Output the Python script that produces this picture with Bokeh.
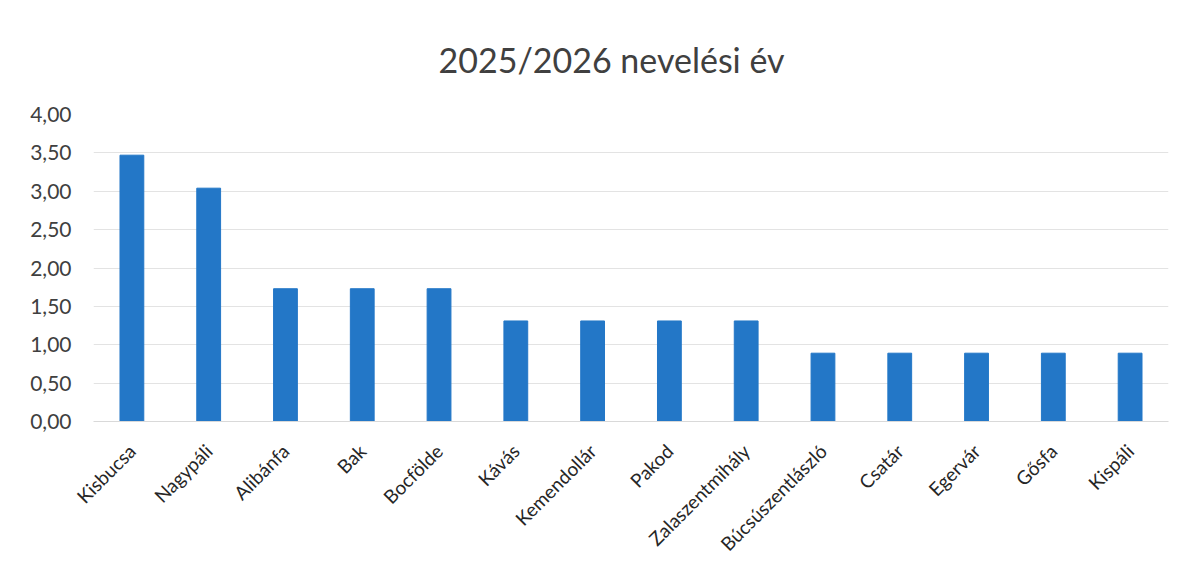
import math
from bokeh.plotting import figure
from bokeh.models import FactorRange, Range1d, SingleIntervalTicker, CustomJSTickFormatter
from bokeh.embed import file_html
from bokeh.resources import INLINE

categories = ["Kisbucsa", "Nagypáli", "Alibánfa", "Bak", "Bocfölde", "Kávás",
              "Kemendollár", "Pakod", "Zalaszentmihály", "Búcsúszentlászló",
              "Csatár", "Egervár", "Gősfa", "Kispáli"]
values = [3.47, 3.04, 1.73, 1.73, 1.73, 1.31, 1.31, 1.31, 1.31, 0.89, 0.89, 0.89, 0.89, 0.89]
title_text = "2025/2026 nevelési év"

FONT = "Lato"

p = figure(width=1173, height=566, output_backend="svg", toolbar_location=None,
           x_range=FactorRange(*categories, range_padding=0), y_range=Range1d(0, 4),
           min_border_left=93, min_border_right=5, min_border_top=114, min_border_bottom=144,
           title=title_text)

p.vbar(x=categories, top=values, width=0.31, color="#2377c7")

p.title.align = "left"
p.title.offset = 345
p.title.text_font = FONT
p.title.text_font_size = "34px"
p.title.text_font_style = "normal"
p.title.text_color = "#404040"
p.title.standoff = 70

p.outline_line_color = None
p.xgrid.grid_line_color = None
p.ygrid.grid_line_color = "#e3e3e3"

p.yaxis.ticker = SingleIntervalTicker(interval=0.5)
p.yaxis.formatter = CustomJSTickFormatter(code="return tick.toFixed(2).replace('.', ',');")
p.yaxis.axis_line_color = None
p.yaxis.major_tick_line_color = None
p.yaxis.minor_tick_line_color = None
p.yaxis.major_label_text_font = FONT
p.yaxis.major_label_text_font_size = "21px"
p.yaxis.major_label_text_color = "#404040"
p.yaxis.major_label_standoff = 16

p.xaxis.axis_line_color = "#d9d9d9"
p.xaxis.major_tick_line_color = None
p.xaxis.minor_tick_line_color = None
p.xaxis.major_label_orientation = math.pi / 4
p.xaxis.major_label_text_font = FONT
p.xaxis.major_label_text_font_size = "19px"
p.xaxis.major_label_text_color = "#262626"
p.xaxis.major_label_standoff = 20

open("out.html", "w").write(file_html(p, INLINE))
